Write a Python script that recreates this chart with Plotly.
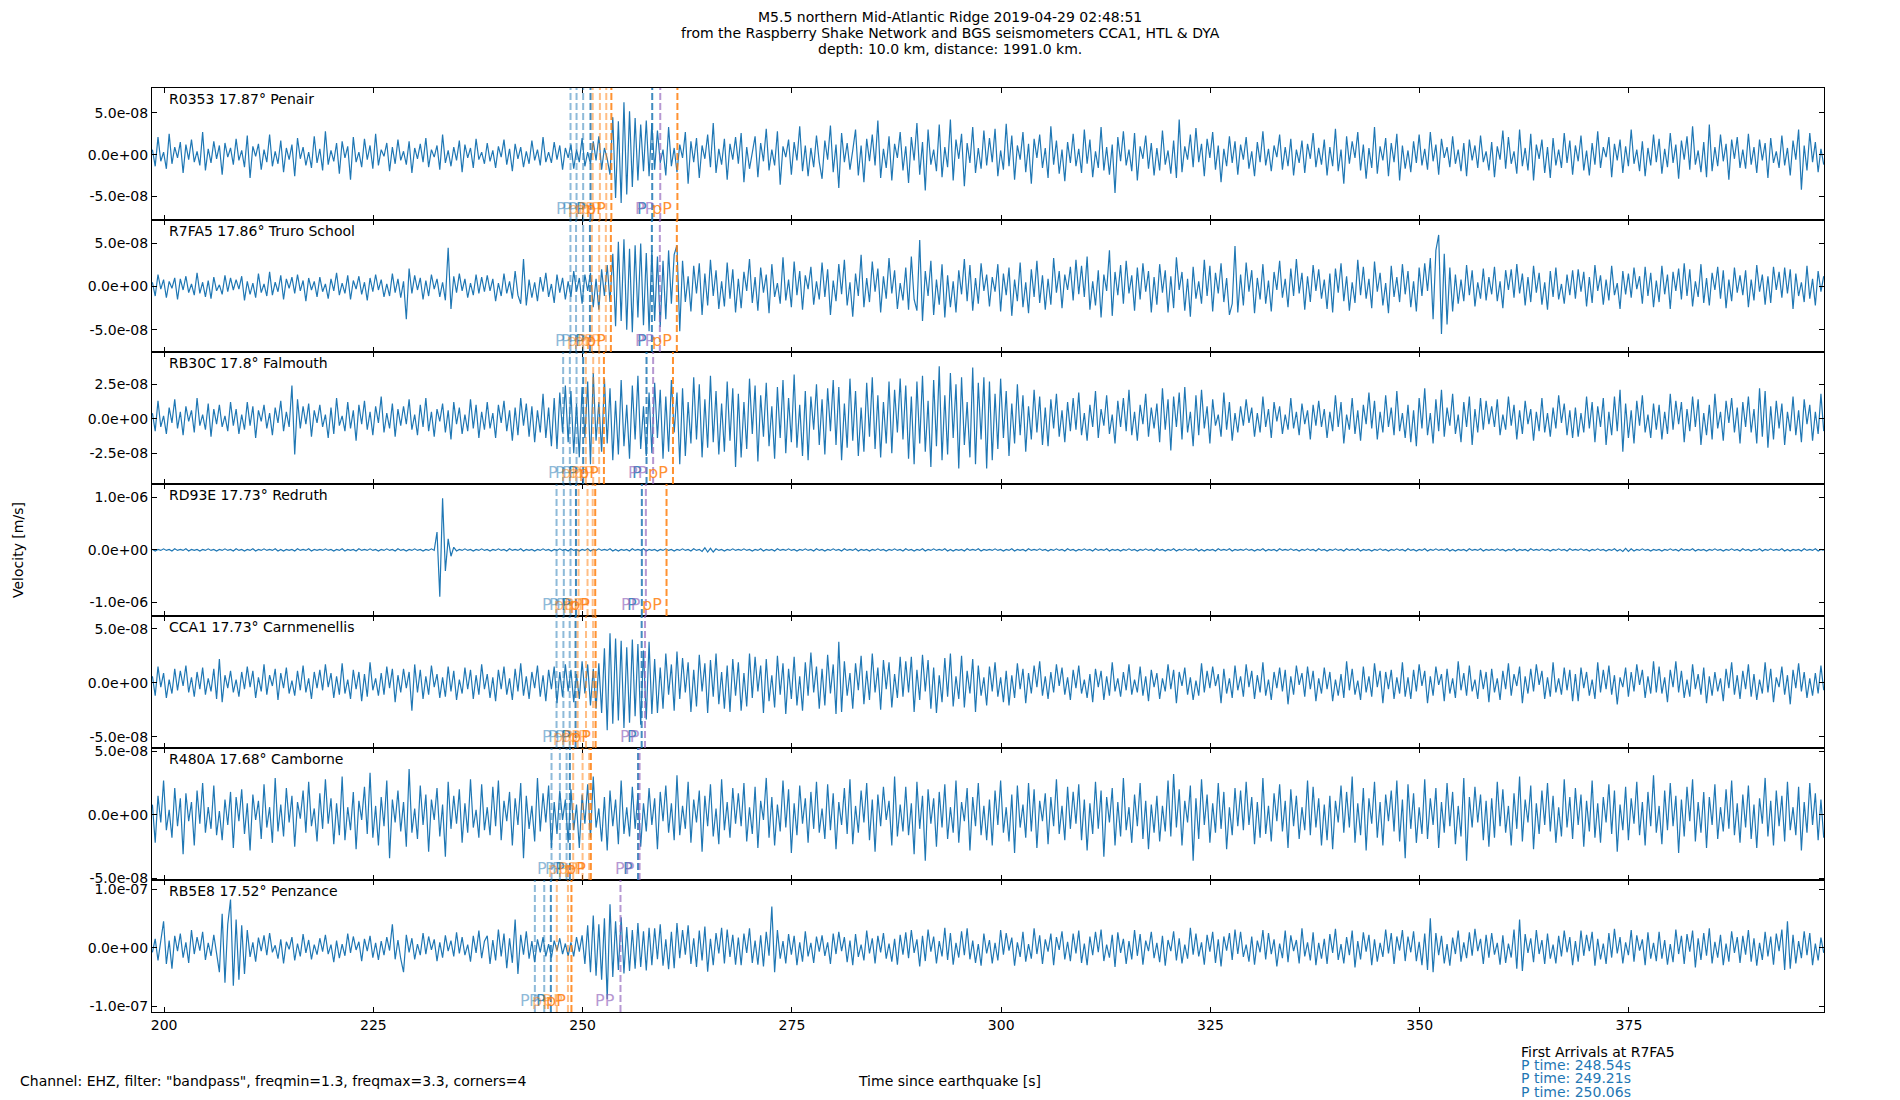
import numpy as np
import plotly.graph_objects as go

# ---------------- data ----------------
TITLE_LINES = [
    "M5.5 northern Mid-Atlantic Ridge 2019-04-29 02:48:51",
    "from the Raspberry Shake Network and BGS seismometers CCA1, HTL & DYA",
    "depth: 10.0 km, distance: 1991.0 km.",
]
STATIONS = ["R0353 17.87° Penair", "R7FA5 17.86° Truro School", "RB30C 17.8° Falmouth",
            "RD93E 17.73° Redruth", "CCA1 17.73° Carnmenellis", "R480A 17.68° Camborne",
            "RB5E8 17.52° Penzance"]
FOOT_LEFT = 'Channel: EHZ, filter: "bandpass", freqmin=1.3, freqmax=3.3, corners=4'
X_LABEL = "Time since earthquake [s]"
Y_LABEL = "Velocity [m/s]"
ARRIVAL_HEAD = "First Arrivals at R7FA5"

T0 = 198.6          # time of first sample [s]
DT = 1.0 / 3.0      # sample spacing [s]
X_RANGE = [198.55, 398.3]
X_TICKS = [200, 225, 250, 275, 300, 325, 350, 375]

# velocity samples, integers in units given by UNITS
R0353 = [
6,-14,21,-8,3,-17,25,-11,9,-4,15,-22,12,-6,18,-9,4,-13,27,-19,7,-10,16,-5,11,-24,14,-3,8,-12,
19,-7,5,-15,23,-28,10,-2,13,-18,6,-9,24,-14,4,-11,17,-21,8,-6,12,-26,20,-5,9,-13,3,-16,22,-10,
7,-19,28,-12,5,-8,14,-23,16,-4,10,-30,21,-9,3,-15,19,-6,11,-17,25,-13,6,-2,14,-20,9,-11,18,-7,
4,-12,16,-22,8,-5,13,-9,20,-15,6,-3,11,-18,24,-10,5,-14,9,-7,17,-21,12,-4,8,-16,19,-6,3,-11,
14,-8,5,-16,10,-3,18,-12,7,-20,13,-5,9,-15,4,-11,17,-7,6,-13,21,-9,3,-10,15,-6,11,-18,8,-4,
12,-17,6,-9,20,-14,3,-11,16,-7,22,-18,8,-5,-24,45,-52,40,-58,63,-48,52,-39,44,-31,36,-20,41,-26,38,
-18,29,-10,6,-25,33,-14,8,-21,12,-4,27,-35,16,-9,20,-28,11,-5,24,-15,38,-22,7,-12,19,-30,13,-6,21,
-11,26,-33,9,-17,4,22,-27,14,-8,31,-19,6,-13,28,-36,10,-3,18,-24,15,-7,34,-20,11,-26,8,-15,23,-9,
-29,17,-6,35,-21,12,-40,26,-9,14,-18,5,30,-25,11,-33,19,-8,24,-13,41,-28,7,-16,22,-31,13,-4,27,-19,
10,-34,21,-7,38,-24,15,-43,30,-12,6,-20,36,-27,9,-15,42,-31,18,-5,25,-38,14,-10,33,-22,8,-17,29,-13,
20,-9,31,-26,5,-18,37,-14,23,-30,11,-6,27,-21,13,-35,19,-4,24,-16,8,-28,34,-12,17,-23,6,-32,15,-10,
25,-14,7,-22,30,-11,18,-27,4,-16,33,-19,9,-24,12,-46,21,-8,28,-13,6,-20,26,-31,10,-5,23,-17,14,-25,
8,-19,29,-12,5,-23,17,-28,42,-21,10,-6,24,-15,32,-9,13,-26,19,-4,27,-18,11,-33,7,-14,22,-10,16,-24,
12,-6,21,-17,4,-26,15,-9,28,-13,7,-20,11,-3,24,-18,9,-14,19,-25,6,-10,17,-22,13,-5,26,-15,8,-12,
18,-25,9,-14,31,-20,6,-35,22,-11,16,-4,27,-19,12,-29,8,-16,33,-23,10,-7,20,-26,14,-9,25,-31,11,-17,
5,-21,16,-10,24,-13,7,-18,27,-8,12,-24,19,-4,9,-15,22,-11,6,-20,14,-26,18,-7,11,-16,23,-9,4,-19,
15,-27,10,-6,29,-17,21,-11,4,-23,30,-14,8,-19,25,-31,12,-5,18,-22,9,-28,20,-13,6,-16,26,-10,17,-24,
11,-8,23,-19,5,-25,14,-12,28,-16,9,-3,21,-27,13,-7,18,-22,10,-14,30,-11,6,-20,16,-26,8,-13,24,-9,
19,-23,7,-15,26,-10,12,-29,17,-6,22,-18,34,-12,5,-21,15,-27,36,-20,9,-14,24,-8,13,-30,18,-5,21,-16,
6,-17,25,-12,9,-22,18,-7,14,-28,20,-10,4,-16,23,-13,8,-25,17,-6,30,-42,11,-19,26,-9,15,-21,7,-12,
]
R7FA5 = [
5,-11,14,-3,8,-13,6,-2,10,-15,9,-4,12,-7,3,-10,16,-8,5,-12,7,-14,11,-5,2,-9,13,-6,10,-4,
8,-3,12,-16,6,-9,4,-13,15,-7,3,-11,17,-10,5,-6,13,-15,9,-2,11,-8,14,-5,7,-17,10,-4,6,-12,
11,-6,3,-14,9,-5,16,-10,4,-8,13,-15,7,-3,12,-9,5,-16,10,-6,14,-4,8,-12,3,-11,15,-7,9,-13,
6,-38,21,-8,13,-4,10,-15,7,-11,14,-3,9,-12,5,-16,45,-26,12,-7,15,-5,9,-13,4,-10,14,-8,11,-6,
13,-5,9,-17,4,-11,15,-8,6,-14,18,-10,-20,32,-22,8,-13,5,-17,11,-6,16,-12,3,-19,14,-7,10,-15,6,
-12,18,-6,10,-20,14,-5,16,-24,9,-27,20,-11,25,-18,38,-46,52,-40,55,-50,44,-53,48,-36,50,-45,39,-52,42,
-40,35,-47,30,-38,42,-20,37,48,-52,30,-18,12,-29,24,-8,27,-33,15,-22,31,-11,19,-26,6,-23,28,-14,20,-30,
9,-25,17,-5,32,-19,11,-28,22,-7,14,-31,26,-12,4,-20,34,-16,8,-24,29,-10,18,-27,13,-3,23,-21,6,-15,
28,-12,20,-33,7,-17,26,-9,31,-22,5,-35,15,-11,37,-24,10,-18,29,-6,21,-30,12,-14,33,-8,19,-26,4,-16,
22,-27,35,-15,-28,54,-40,18,-11,30,-33,8,-21,26,-36,13,-24,6,-30,19,-9,32,-17,25,-28,10,-20,27,-5,14,
-23,11,-6,26,-29,15,-10,22,-34,8,-17,28,-24,5,-31,20,-12,30,-19,13,-27,9,-21,33,-7,18,-25,14,-4,23,
-16,31,-9,24,-12,35,-27,6,-22,19,-36,14,-5,42,-34,17,-10,25,-20,30,-8,13,-28,22,-15,27,-6,18,-30,11,
-21,26,-7,19,-30,12,-25,34,-4,17,-28,9,-35,23,-14,6,-20,31,-11,24,-29,16,-8,27,-18,10,-33,-20,47,-30,
14,-22,28,-6,19,-31,10,-15,26,-20,7,-29,17,-4,30,-13,9,-24,21,-11,32,-8,16,-27,12,-18,25,-5,20,-14,
8,-26,15,-30,21,-7,27,-17,12,-28,5,-19,31,-10,23,-14,9,-25,29,-6,16,-22,4,-31,24,-12,11,-18,26,-9,
18,-24,6,-29,22,-11,27,-5,33,-38,42,60,-55,38,-44,22,-29,14,-20,8,-17,25,-10,19,-23,5,-14,21,-16,11,
-9,23,-17,6,-25,19,-4,20,-13,26,-8,15,-22,11,-18,24,-7,16,-21,5,-27,18,-12,22,-15,3,-20,14,-10,19,
-14,20,-6,17,-23,11,-19,25,-5,13,-21,8,-16,24,-10,4,-26,18,-9,15,-13,22,-3,12,-20,23,-11,16,-24,7,
-18,24,-9,14,-26,17,-5,21,-15,27,-11,20,-23,6,-12,26,-19,10,-22,16,-4,23,-14,19,-25,8,-17,22,-7,13,
-10,19,-24,8,-16,25,-6,14,-21,12,-19,23,-4,17,-13,22,-8,20,-26,15,-11,5,-18,24,-14,9,-22,18,-6,12,
]
RB30C = [
4,-9,13,-6,2,-11,8,-3,14,-7,5,-12,9,-2,6,-10,15,-5,3,-8,11,-13,7,-4,10,-6,2,-9,12,-5,
7,-11,3,-8,12,-5,9,-14,6,-2,10,-7,4,-12,8,-3,13,-9,5,-6,24,-26,14,-7,9,-4,11,-13,6,-3,
10,-6,3,-14,8,-11,15,-5,2,-9,12,-7,6,-16,10,-4,13,-8,5,-12,9,-3,16,-10,4,-7,11,-13,7,-5,
9,-4,14,-8,3,-12,10,-6,15,-9,5,-13,7,-2,11,-10,6,-15,12,-4,8,-11,3,-9,14,-7,10,-14,5,-8,
12,-7,4,-14,10,-3,13,-9,6,-16,8,-12,15,-5,11,-13,9,-17,6,-10,18,-14,8,-20,15,-22,19,-10,24,-17,
20,-25,11,-28,23,-14,27,-33,33,-16,12,-24,29,-18,22,-30,13,-26,28,-20,10,-29,24,-15,31,-22,9,-27,19,-25,
26,-14,21,-29,16,-24,28,-10,19,-33,22,-27,12,-18,30,-15,25,-28,14,-21,31,-17,20,-26,11,-24,27,-16,22,-35,
18,-28,12,-22,29,-11,24,-31,17,-13,26,-20,9,-29,23,-14,28,-25,15,-17,32,-21,10,-27,20,-30,16,-8,25,-19,
14,-26,22,-9,28,-19,23,-30,11,-21,29,-16,20,-27,8,-24,26,-13,30,-22,17,-28,12,-18,27,-25,21,-10,29,-15,
24,-29,16,-33,27,-18,31,-24,13,-35,28,-20,38,-30,17,-26,33,-14,25,-36,30,-19,12,-28,37,-33,26,-15,30,-36,
27,-30,18,-22,29,-14,20,-27,11,-18,25,-12,17,-24,9,-15,21,-10,16,-19,8,-20,14,-7,18,-13,6,-17,12,-9,
15,-8,19,-12,4,-16,10,-6,20,-14,7,-5,17,-11,3,-18,13,-6,15,-9,21,-12,5,-16,10,-4,18,-13,8,-7,
11,-17,22,-8,14,-23,16,-6,19,-15,23,-10,5,-20,17,-12,21,-7,9,-18,14,-5,3,-13,19,-8,12,-16,4,-10,
9,-5,14,-3,8,-13,4,-10,16,-6,7,-14,12,-2,9,-11,3,-8,15,-7,5,-12,11,-4,6,-15,10,-5,13,-6,
7,-14,5,-9,17,-6,12,-18,3,-8,15,-11,6,-16,10,-4,19,-7,13,-15,5,-10,17,-6,8,-12,20,-9,4,-14,
10,-17,6,-20,15,-7,22,-12,4,-18,14,-9,21,-13,8,-5,18,-11,3,-17,12,-6,16,-19,7,-10,15,-8,13,-4,
9,-6,14,-12,3,-8,16,-5,10,-15,6,-11,13,-4,7,-16,5,-9,15,-10,4,-13,8,-7,17,-3,11,-12,6,-14,
8,-13,4,-10,16,-7,12,-17,9,-6,15,-19,5,-12,16,-9,21,-24,11,-14,6,-18,13,-5,17,-10,3,-14,11,-8,
10,-15,5,-11,18,-8,13,-4,12,-17,7,-9,16,-6,14,-19,4,-12,10,-15,18,-7,5,-16,13,-3,15,-10,8,-18,
12,-6,16,-10,7,-18,22,-13,20,-21,9,-15,13,-7,11,-19,5,-9,16,-12,6,-17,14,-4,10,-16,5,-11,18,-9,
]
RD93E = [
1,-2,1,-1,2,-1,1,-2,2,-1,1,-1,2,-2,1,-1,1,-2,1,-1,2,-1,1,-2,1,-1,2,-1,1,-2,
2,-1,1,-2,1,-1,2,-2,1,-1,2,-1,1,-1,2,-2,1,-2,1,-1,1,-2,2,-1,1,-1,2,-2,1,-1,
1,-1,2,-1,1,-2,1,-1,2,-2,1,-1,1,-2,2,-1,1,-1,2,-1,1,-2,1,-1,2,-1,1,-2,2,-1,
1,-2,1,-1,2,-1,1,-2,1,-1,2,-1,34,-89,98,-40,21,-12,5,-2,1,-1,2,-1,1,-2,1,-1,2,-1,
1,-2,1,-1,2,-1,1,-2,2,-1,1,-1,2,-2,1,-1,1,-2,1,-1,2,-1,1,-2,1,-1,2,-1,1,-2,
2,-1,1,-2,1,-1,2,-2,1,-1,2,-1,1,-1,2,-2,1,-2,1,-1,1,-2,2,-1,1,-1,2,-2,1,-1,
1,-2,1,-1,2,-1,1,-2,1,-1,2,-1,1,-2,2,-1,1,-3,4,-4,3,-4,2,-1,1,-2,1,-1,2,-1,
1,-1,2,-1,1,-2,1,-1,2,-2,1,-1,1,-2,2,-1,1,-1,2,-1,1,-2,1,-1,2,-1,1,-2,2,-1,
1,-2,1,-1,2,-1,1,-2,2,-1,1,-1,2,-2,1,-1,1,-2,1,-1,2,-1,1,-2,1,-1,2,-1,1,-2,
2,-1,1,-2,1,-1,2,-2,1,-1,2,-1,1,-1,2,-2,1,-2,1,-1,1,-2,2,-1,1,-1,2,-2,1,-1,
1,-1,2,-1,1,-2,1,-1,2,-2,1,-1,1,-2,2,-1,1,-1,2,-1,1,-2,1,-1,2,-1,1,-2,2,-1,
1,-2,1,-1,2,-1,1,-2,2,-1,1,-1,2,-2,1,-1,1,-2,1,-1,2,-1,1,-2,1,-1,2,-1,1,-2,
2,-1,1,-2,1,-1,2,-2,1,-1,2,-1,1,-1,2,-2,1,-2,1,-1,1,-2,2,-1,1,-1,2,-2,1,-1,
1,-1,2,-1,1,-2,1,-1,2,-2,1,-1,1,-2,2,-1,1,-1,2,-1,1,-2,1,-1,2,-1,1,-2,2,-1,
1,-2,1,-1,2,-1,1,-2,2,-1,1,-1,2,-2,1,-1,1,-2,1,-1,2,-1,1,-2,1,-1,2,-1,1,-2,
2,-1,1,-2,1,-1,2,-2,1,-1,2,-1,1,-1,2,-2,1,-2,1,-1,1,-2,2,-1,1,-1,2,-2,1,-1,
1,-1,2,-1,1,-2,1,-1,2,-2,1,-1,1,-2,2,-1,1,-1,2,-1,1,-2,1,-1,2,-1,1,-2,2,-1,
1,-1,2,-1,1,-2,1,-1,2,-1,1,-2,1,-1,2,-2,1,-3,3,-3,2,-2,1,-1,2,-1,1,-2,1,-1,
1,-2,1,-1,2,-1,1,-2,2,-1,1,-1,2,-2,1,-1,1,-2,1,-1,2,-1,1,-2,1,-1,2,-1,1,-2,
2,-1,1,-2,1,-1,2,-2,1,-1,2,-1,1,-1,2,-2,1,-2,1,-1,1,-2,2,-1,1,-1,2,-2,1,-1,
]
CCA1 = [
6,-12,15,-4,9,-14,3,-10,13,-7,11,-3,16,-9,5,-13,10,-6,14,-11,4,-8,13,-15,22,-18,7,-5,11,-9,
3,-13,10,-6,15,-4,11,-14,5,-8,17,-11,7,-3,13,-16,9,-5,14,-10,2,-12,11,-7,16,-9,4,-15,10,-5,
12,-7,17,-4,9,-14,6,-11,18,-10,3,-15,12,-6,10,-17,8,-13,19,-7,4,-12,9,-11,15,-5,13,-18,7,-9,
13,-5,10,-26,17,-9,12,-15,6,-11,16,-4,8,-14,5,-13,15,-8,11,-16,3,-10,14,-6,12,-15,7,-11,17,-6,
8,-14,5,-17,12,-6,15,-11,4,-16,13,-8,18,-12,6,-15,10,-5,16,-13,7,-17,12,-6,15,-19,10,-13,17,-8,
12,-18,8,-15,20,-10,17,-21,13,-24,18,-28,32,-44,46,-38,41,-35,39,-42,33,-37,40,-31,36,-39,30,-34,38,-29,
22,-28,14,-24,27,-11,17,-26,29,-15,23,-9,19,-27,12,-22,26,-8,18,-28,21,-13,27,-20,10,-24,16,-27,22,-12,
19,-26,9,-22,27,-14,24,-8,16,-28,22,-17,7,-23,25,-11,18,-29,13,-15,24,-21,6,-26,19,-12,28,-9,15,-24,
13,-21,26,-10,17,-29,38,-27,20,-12,9,-24,18,-7,25,-20,11,-16,27,-9,14,-25,21,-6,19,-23,8,-14,24,-13,
20,-9,24,-27,12,-16,26,-8,21,-24,14,-28,7,-18,23,-13,27,-22,6,-15,25,-23,11,-10,22,-27,16,-12,5,-21,
15,-8,19,-13,5,-18,11,-21,7,-14,18,-6,13,-19,9,-10,16,-4,20,-12,6,-15,10,-9,17,-3,14,-11,5,-16,
12,-5,16,-10,3,-14,8,-18,13,-4,11,-16,6,-12,19,-8,4,-13,10,-7,17,-11,3,-9,15,-12,6,-17,12,-4,
9,-15,4,-8,17,-6,12,-19,10,-3,14,-11,5,-16,2,-12,18,-9,11,-5,15,-3,8,-19,13,-10,4,-14,16,-7,
6,-13,17,-4,11,-15,7,-9,19,-12,3,-16,10,-5,14,-8,12,-20,6,-11,16,-2,9,-13,15,-6,11,-17,4,-10,
14,-6,10,-17,3,-12,8,-14,20,-7,13,-11,2,-16,15,-9,6,-13,18,-4,11,-19,10,-6,12,-15,5,-10,19,-13,
5,-15,12,-8,17,-3,11,-19,6,-12,15,-2,8,-17,13,-10,4,-14,20,-7,9,-12,16,-8,3,-15,12,-6,10,-18,
13,-9,4,-16,11,-6,18,-12,8,-3,15,-19,6,-10,13,-8,17,-2,11,-15,5,-13,19,-9,4,-11,14,-7,12,-17,
8,-17,14,-5,10,-12,3,-15,19,-9,12,-6,16,-11,7,-20,5,-4,14,-13,10,-8,17,-2,12,-14,6,-10,20,-9,
15,-10,5,-18,12,-4,20,-9,11,-14,3,-13,17,-6,8,-11,14,-19,6,-12,10,-8,4,-17,13,-5,19,-11,7,-15,
11,-6,17,-13,8,-16,3,-10,19,-9,13,-18,5,-4,15,-11,7,-20,12,-5,18,-8,10,-14,4,-12,9,-10,16,-7,
]
R480A = [
8,-22,15,-6,27,-12,4,-18,21,-9,13,-31,17,-5,10,-24,19,-7,25,-14,6,-11,23,-16,3,-20,12,-8,18,-26,
14,-5,20,-15,9,-28,16,-4,11,-19,24,-10,6,-22,29,-13,8,-17,21,-6,15,-25,10,-3,19,-14,26,-9,5,-21,
17,-11,28,-7,13,-23,9,-16,30,-20,6,-12,18,-27,11,-4,22,-15,33,-18,7,-24,14,-9,27,-34,12,-6,19,-13,
10,-25,36,-14,5,-19,23,-8,16,-29,12,-4,21,-17,8,-33,26,-11,15,-7,20,-22,9,-14,28,-10,4,-18,24,-12,
6,-16,22,-9,27,-20,11,-5,18,-24,13,-8,25,-34,15,-11,7,-21,29,-13,17,-6,23,-26,10,-15,19,-4,12,-22,
20,-12,8,-26,16,-7,24,-18,30,-10,5,-21,14,-28,19,-9,12,-23,27,-15,6,-17,22,-11,16,-25,9,-13,21,-8,
13,-27,18,-5,23,-14,9,-20,31,-16,7,-11,26,-22,12,-6,19,-29,15,-9,24,-17,5,-23,28,-12,10,-18,21,-7,
17,-9,25,-21,6,-15,22,-26,11,-4,29,-18,14,-24,8,-13,27,-10,20,-30,9,-16,23,-7,13,-22,18,-11,26,-14,
5,-19,24,-12,17,-27,10,-8,21,-15,28,-23,7,-14,19,-6,25,-20,12,-29,16,-9,22,-4,11,-24,30,-17,8,-13,
22,-16,9,-31,26,-11,15,-36,20,-7,13,-25,18,-10,24,-19,6,-14,27,-22,10,-5,21,-28,14,-9,25,-16,7,-20,
12,-24,19,-8,27,-14,6,-21,16,-30,23,-10,8,-18,25,-13,20,-26,11,-5,17,-23,14,-9,28,-15,7,-20,22,-11,
18,-7,24,-20,12,-28,9,-15,26,-11,19,-33,14,-6,21,-24,10,-17,29,-12,6,-22,16,-9,25,-19,11,-27,8,-14,
15,-21,7,-13,27,-17,32,-10,20,-24,11,-6,23,-36,13,-19,28,-8,16,-22,9,-14,25,-11,18,-27,6,-16,21,-9,
19,-12,26,-8,14,-23,10,-18,29,-15,7,-21,17,-5,24,-13,11,-26,20,-9,15,-19,6,-12,27,-16,22,-10,13,-24,
8,-20,15,-27,11,-6,23,-14,18,-10,30,-22,9,-16,21,-28,13,-7,26,-18,10,-24,16,-5,19,-13,27,-21,12,-34,
24,-11,17,-22,6,-15,28,-19,13,-8,21,-26,10,-14,25,-9,18,-23,7,-17,29,-36,14,-10,22,-6,16,-20,11,-25,
13,-18,26,-9,20,-14,7,-24,17,-11,30,-21,12,-6,23,-27,9,-15,19,-8,25,-13,15,-22,6,-17,28,-10,14,-19,
21,-8,16,-25,11,-13,27,-18,9,-22,14,-6,24,-15,19,-29,8,-12,22,-20,13,-7,26,-16,10,-24,18,-9,31,-14,
7,-23,19,-12,25,-9,15,-30,12,-17,22,-5,28,-21,10,-14,18,-26,14,-8,24,-19,6,-13,20,-11,27,-16,9,-22,
16,-10,23,-19,8,-26,13,-7,29,-17,11,-24,19,-9,15,-21,26,-12,6,-16,22,-28,10,-14,25,-8,17,-20,12,-18,
]
RB5E8 = [
-8,15,-22,10,45,-28,12,-36,20,-6,24,-17,9,-26,30,-11,18,-5,27,-21,8,-14,22,-10,-42,58,-60,40,82,-65,
48,-55,38,-45,30,-16,9,-24,17,-6,21,-13,25,-8,4,-19,14,-27,10,-3,18,-22,7,-15,23,-9,13,-20,5,-12,
16,-7,22,-11,5,-25,12,-18,6,-14,24,-9,19,-4,10,-23,15,-6,20,-17,8,-21,11,-13,18,-5,40,-20,13,-19,
-42,22,-8,16,-20,6,-13,25,-11,19,-4,14,-23,9,-17,21,-6,12,-15,26,-10,18,-13,5,-24,20,-9,29,-18,11,
20,-28,13,-22,31,-15,24,-35,16,-26,48,-45,22,-12,28,-19,11,-25,14,-8,18,-15,6,-17,12,-5,16,-11,7,-14,
9,-15,18,-7,21,-28,38,-42,55,-48,40,-55,50,-88,74,-50,45,-38,52,-44,35,-40,30,-36,42,-33,28,-39,34,-30,
33,-20,40,-31,14,-37,27,-35,42,-18,30,-12,38,-28,16,-33,29,-22,36,-41,15,-30,25,-10,34,-27,31,-16,22,-29,
17,-30,24,-9,33,-26,12,-29,21,-32,27,-14,70,-42,30,-19,11,-27,23,-12,20,-30,9,-24,28,-15,8,-26,19,-7,
21,-14,9,-28,24,-11,27,-6,18,-25,12,-30,23,-16,5,-22,29,-10,16,-27,20,-8,25,-19,7,-24,15,-29,22,-12,
26,-18,30,-9,14,-32,20,-23,31,-7,19,-27,11,-15,34,-21,25,-29,8,-17,28,-13,33,-20,12,-26,6,-31,24,-10,
13,-27,8,-22,30,-12,25,-5,17,-31,9,-16,27,-24,6,-19,33,-11,21,-28,14,-7,24,-30,18,-4,28,-20,10,-23,
24,-10,29,-26,7,-30,19,-13,27,-8,31,-23,5,-17,22,-33,26,-9,15,-28,11,-20,30,-14,23,-29,12,-6,27,-18,
8,-25,20,-31,13,-6,28,-22,16,-27,5,-19,34,-12,24,-15,9,-29,22,-7,27,-26,14,-32,19,-5,25,-21,31,-11,
27,-16,5,-24,19,-29,12,-8,30,-20,25,-11,14,-32,7,-18,29,-25,21,-6,13,-27,33,-15,9,-22,26,-30,8,-19,
15,-28,23,-9,32,-21,6,-27,18,-13,29,-34,11,-20,26,-7,22,-30,14,-24,8,-16,31,-10,25,-28,19,-5,30,-23,
19,-8,28,-23,10,-30,24,-38,50,-42,25,-13,20,-27,6,-31,17,-11,29,-24,9,-18,26,-14,32,-6,15,-28,22,-17,
25,-12,8,-29,21,-26,7,-17,31,-36,48,-40,23,-9,16,-25,30,-11,13,-28,24,-19,5,-27,20,-15,29,-8,18,-30,
11,-24,29,-14,22,-6,27,-31,15,-20,7,-28,25,-17,32,-10,18,-27,9,-13,30,-24,21,-5,14,-30,26,-19,8,-23,
27,-19,13,-29,6,-25,31,-11,20,-28,23,-7,29,-34,16,-21,25,-14,33,-27,10,-17,22,-30,7,-24,28,-9,18,-26,
20,-12,30,-24,16,-31,8,-21,27,-15,19,-29,24,-6,31,-38,45,-36,22,-27,11,-18,28,-13,25,-30,7,-22,17,-9,
]
TRACES = [R0353, R7FA5, RB30C, RD93E, CCA1, R480A, RB5E8]
UNITS = [1e-9, 1e-9, 1e-9, 1e-8, 1e-9, 1e-9, 1e-9]

Y_RANGES = [[-7.85e-8, 8.0e-8], [-7.6e-8, 7.73e-8], [-4.73e-8, 4.83e-8], [-1.257e-6, 1.253e-6],
            [-6.05e-8, 6.19e-8], [-5.12e-8, 5.25e-8], [-1.1e-7, 1.155e-7]]
Y_TICKS = [[-5e-8, 0, 5e-8], [-5e-8, 0, 5e-8], [-2.5e-8, 0, 2.5e-8], [-1e-6, 0, 1e-6],
           [-5e-8, 0, 5e-8], [-5e-8, 0, 5e-8], [-1e-7, 0, 1e-7]]

# predicted phase arrivals per station: times [s], phase names, relative weight
ARR_T = [
    [248.55, 249.27, 250.06, 250.94, 251.2, 252.06, 252.82, 253.43, 258.31, 259.27, 261.32],
    [248.54, 249.21, 250.06, 250.87, 251.10, 251.97, 252.77, 253.37, 258.27, 259.22, 261.25],
    [247.67, 248.47, 249.27, 250.06, 250.38, 251.26, 251.97, 252.54, 257.63, 258.42, 260.79],
    [246.88, 247.75, 248.55, 249.2, 249.51, 250.58, 251.2, 251.5, 257.07, 257.55, 260.02],
    [246.88, 247.7, 248.45, 249.15, 249.4, 250.4, 251.25, 251.55, 257.05, 257.45],
    [246.28, 247.28, 248.08, 248.47, 248.87, 249.99, 250.78, 250.98, 256.62, 256.8],
    [244.29, 245.41, 246.2, 246.91, 248.24, 248.66, 254.52],
]
PH11 = ["P", "P", "P", "P", "pP", "pP", "pP", "pP", "P", "PP", "pP"]
W11 = [1, 1, 1, 2, 1, 1, 1, 2, 2, 1.5, 2]
ARR_PH = [PH11, PH11, PH11, PH11, PH11[:10], PH11[:10],
          ["P", "P", "P", "pP", "pP", "pP", "PP"]]
ARR_W = [W11, W11, W11, W11, W11[:10], W11[:10], [1, 1, 2, 1, 1, 2, 1.5]]

# ---------------- styling ----------------
FONT = "DejaVu Sans"
TRACE_COLOR = "#1f77b4"
PHASE_COLORS = {"P": "#1f77b4", "pP": "#ff7f0e", "PP": "#9467bd"}
W, H = 1900, 1100
ML, MR, MT, MB = 152, 76, 88, 88
PW, PH_ = W - ML - MR, H - MT - MB


def px_x(px):
    return (px - ML) / PW


def px_y(py):
    return (H - MB - py) / PH_


fig = go.Figure()
n = len(TRACES)
layout = {}
for k in range(n):
    sfx = "" if k == 0 else str(k + 1)
    vals = np.asarray(TRACES[k], dtype=float) * UNITS[k]
    t = T0 + np.arange(len(vals)) * DT
    fig.add_trace(go.Scatter(x=t, y=vals, mode="lines", xaxis="x" + sfx, yaxis="y" + sfx,
                             line=dict(color=TRACE_COLOR, width=1.2), showlegend=False,
                             hoverinfo="skip"))
    top = 1 - k / n
    bot = 1 - (k + 1) / n
    layout["xaxis" + sfx] = dict(
        domain=[0, 1], anchor="y" + sfx, range=X_RANGE, tickvals=X_TICKS,
        ticks="inside", ticklen=5, tickcolor="black", showline=True, linecolor="black",
        linewidth=1, mirror="ticks", showgrid=False, zeroline=False,
        showticklabels=(k == n - 1), tickfont=dict(size=14, color="black", family=FONT),
        **({} if k == 0 else {"matches": "x"}))
    layout["yaxis" + sfx] = dict(
        domain=[bot, top], anchor="x" + sfx, range=Y_RANGES[k], tickvals=Y_TICKS[k],
        ticktext=[f"{v:.1e}" for v in Y_TICKS[k]], ticks="inside", ticklen=5,
        tickcolor="black", showline=True, linecolor="black", linewidth=1, mirror="ticks",
        showgrid=False, zeroline=False, tickfont=dict(size=14, color="black", family=FONT))

    # station label
    fig.add_annotation(xref=f"x{sfx} domain", yref=f"y{sfx} domain", x=0, y=1,
                       xanchor="left", yanchor="middle", xshift=15, yshift=-11,
                       text=STATIONS[k], showarrow=False,
                       font=dict(size=14, color="black", family=FONT))
    # arrivals
    for tt, ph, wt in zip(ARR_T[k], ARR_PH[k], ARR_W[k]):
        col = PHASE_COLORS[ph]
        op = 0.15 + 0.35 * wt
        fig.add_shape(type="line", xref="x" + sfx, yref=f"y{sfx} domain", x0=tt, x1=tt,
                      y0=0, y1=1, line=dict(color=col, width=2, dash="7px,3px"),
                      opacity=op, layer="above")
        fig.add_annotation(xref="x" + sfx, yref=f"y{sfx} domain", x=tt, y=0, text=ph,
                           showarrow=False, xanchor="right", yanchor="bottom", xshift=-3,
                           yshift=0, opacity=op, font=dict(size=16, color=col, family=FONT))

# title lines
for line, py in zip(TITLE_LINES, [16.7, 33.3, 49.3]):
    fig.add_annotation(xref="paper", yref="paper", x=px_x(950), y=px_y(py), text=line,
                       showarrow=False, xanchor="center", yanchor="middle",
                       font=dict(size=14, color="black", family=FONT))

# axis labels / footers
fig.add_annotation(xref="paper", yref="paper", x=px_x(18), y=0.5, text=Y_LABEL,
                   textangle=-90, showarrow=False, xanchor="center", yanchor="middle",
                   font=dict(size=14, color="black", family=FONT))
fig.add_annotation(xref="paper", yref="paper", x=px_x(949), y=px_y(1081), text=X_LABEL,
                   showarrow=False, xanchor="center", yanchor="middle",
                   font=dict(size=14, color="black", family=FONT))
fig.add_annotation(xref="paper", yref="paper", x=px_x(18), y=px_y(1081), text=FOOT_LEFT,
                   showarrow=False, xanchor="left", yanchor="middle",
                   font=dict(size=14, color="black", family=FONT))

# first arrivals block (from R7FA5 P arrivals)
p_times = [tt for tt, ph in zip(ARR_T[1], ARR_PH[1]) if ph == "P"][:3]
block = [(ARRIVAL_HEAD, "black")] + [(f"P time: {tt:.2f}s", TRACE_COLOR) for tt in p_times]
for (txt, col), py in zip(block, [1051.7, 1065.0, 1078.3, 1091.7]):
    fig.add_annotation(xref="paper", yref="paper", x=px_x(1519), y=px_y(py), text=txt,
                       showarrow=False, xanchor="left", yanchor="middle",
                       font=dict(size=14, color=col, family=FONT))

fig.update_layout(width=W, height=H, margin=dict(l=ML, r=MR, t=MT, b=MB, pad=0),
                  paper_bgcolor="white", plot_bgcolor="white",
                  font=dict(family=FONT, size=14, color="black"), **layout)

fig.write_html("out.html", config={"displayModeBar": False},
               post_script="document.body.style.margin='0';")
